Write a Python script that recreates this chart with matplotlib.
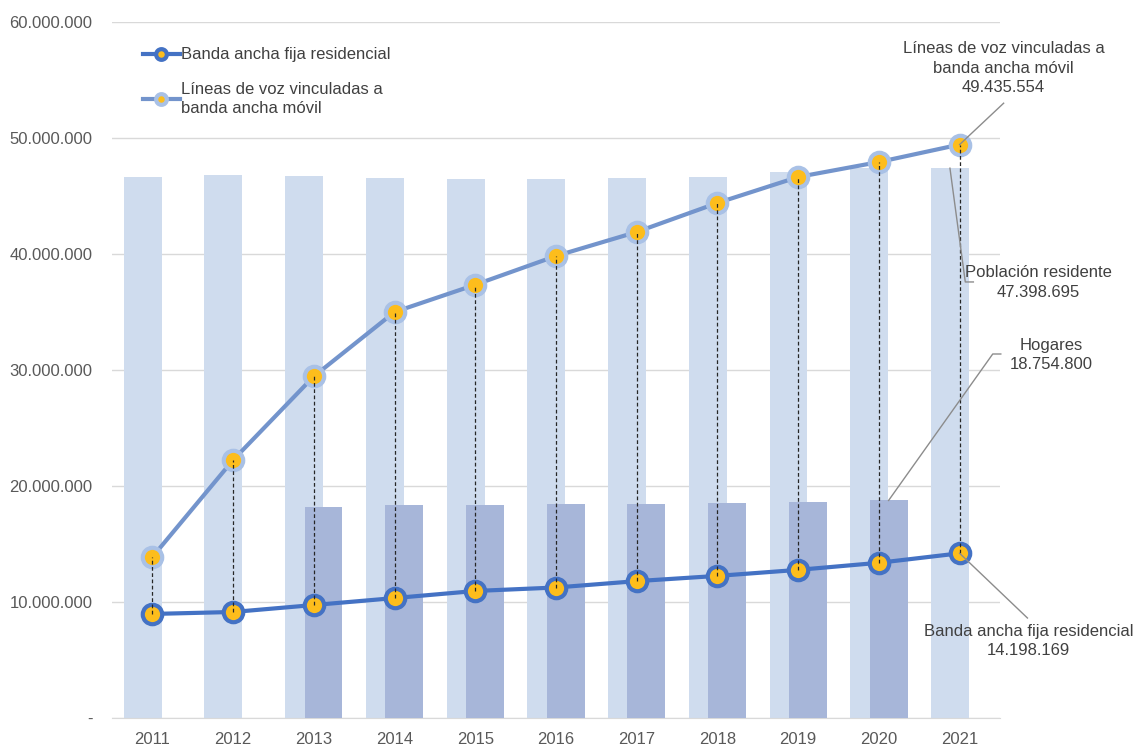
import numpy as np
import matplotlib.pyplot as plt
from matplotlib.ticker import FuncFormatter

plt.rcParams['font.family'] = ['Liberation Sans', 'DejaVu Sans']

# --- DATA ---
years = ['2011', '2012', '2013', '2014', '2015', '2016', '2017', '2018', '2019', '2020', '2021']
poblacion = [46667175, 46818216, 46727890, 46512199, 46449565, 46440099, 46527039, 46658447,
             47026208, 47450795, 47398695]
hogares = [np.nan, np.nan, 18217300, 18329100, 18376200, 18406100, 18472800, 18535900,
           18625700, 18754800, np.nan]
fija = [8970000, 9140000, 9740000, 10340000, 10950000, 11250000, 11800000, 12250000,
        12770000, 13380000, 14198169]
movil = [13880000, 22240000, 29450000, 35000000, 37350000, 39830000, 41900000, 44400000,
         46640000, 47930000, 49435554]

# --- STYLE ---
c_pob = '#cfdcee'
c_hog = '#a7b6d9'
c_fija = '#4472c4'
c_movil = '#7394cc'
c_movil_edge = '#a9c1e6'
c_dot = '#fdbd1c'
c_text = '#404040'
c_grid = '#d9d9d9'
fs = 12


def fmt(v):
    return f'{v:,.0f}'.replace(',', '.')


fig = plt.figure(figsize=(11.34, 7.46), dpi=100)
ax = fig.add_axes([112 / 1134, 28 / 746, 888 / 1134, 696 / 746])

x = np.arange(len(years))
w = 0.47
off = 0.12

ax.bar(x - off, poblacion, width=w, color=c_pob, zorder=2)
ax.bar(x + off, hogares, width=w, color=c_hog, zorder=3)

ax.plot(x, fija, color=c_fija, lw=3, marker='o', ms=14, mfc=c_dot, mec=c_fija, mew=3,
        zorder=5, label='Banda ancha fija residencial')
ax.plot(x, movil, color=c_movil, lw=3, marker='o', ms=14, mfc=c_dot, mec=c_movil_edge, mew=3,
        zorder=5, label='Líneas de voz vinculadas a\nbanda ancha móvil')

# dashed connectors between both series, on top of the markers
for xi, f, m in zip(x, fija, movil):
    ax.plot([xi, xi], [f, m], color='#262626', lw=0.9, ls=(0, (3, 2)), zorder=6)

ax.set_xlim(-0.5, 10.5)
ax.set_ylim(0, 60000000)
ax.set_yticks(np.arange(0, 60000001, 10000000))
ax.yaxis.set_major_formatter(FuncFormatter(lambda v, p: '-' if v == 0 else fmt(v)))
ax.set_xticks(x)
ax.set_xticklabels(years)
ax.tick_params(length=0, labelsize=fs, colors='#595959')
ax.tick_params(axis='x', pad=10)
ax.tick_params(axis='y', pad=14)
ax.grid(axis='y', color=c_grid, lw=1, zorder=0)
ax.set_axisbelow(True)
for s in ['top', 'right', 'left']:
    ax.spines[s].set_visible(False)
ax.spines['bottom'].set_color(c_grid)

leg = ax.legend(loc='upper left', bbox_to_anchor=(0.018, 0.985), frameon=False,
                fontsize=fs, handlelength=2.2, handletextpad=0.1, labelspacing=1.2,
                markerscale=0.55)
for t in leg.get_texts():
    t.set_color(c_text)
    t.set_linespacing(1.3)

# --- ANNOTATIONS ---
lk = dict(color='#8c8c8c', lw=1, clip_on=False, zorder=7)
tk = dict(ha='center', va='center', fontsize=fs, color=c_text, linespacing=1.35)

ax.plot([10, 10.545], [movil[-1], 53000000], **lk)
ax.text(10.545, 56030000, 'Líneas de voz vinculadas a\nbanda ancha móvil\n' + fmt(movil[-1]), **tk)

ax.plot([10 - off, 10.07, 10.17], [poblacion[-1], 37590000, 37590000], **lk)
ax.text(10.97, 37540000, 'Población residente\n' + fmt(poblacion[-1]), **tk)

ax.plot([9 + off, 10.41, 10.51], [hogares[9], 31380000, 31380000], **lk)
ax.text(11.13, 31290000, 'Hogares\n' + fmt(hogares[9]), **tk)

ax.plot([10, 10.84], [fija[-1], 8620000], **lk)
ax.text(10.85, 6640000, 'Banda ancha fija residencial\n' + fmt(fija[-1]), **tk)

fig.savefig('out.png', dpi=100)
